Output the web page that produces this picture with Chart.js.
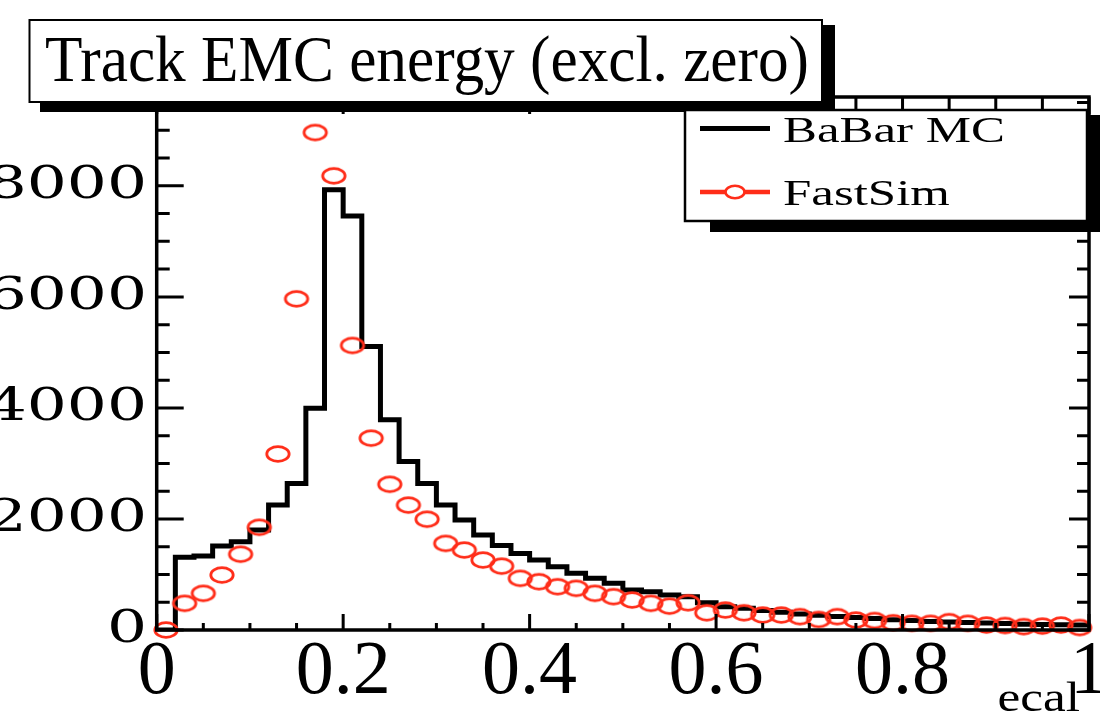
<!DOCTYPE html>
<html><head><meta charset="utf-8">
<script src="https://cdn.jsdelivr.net/npm/chart.js@4.4.1/dist/chart.umd.min.js"></script>
<style>html,body{margin:0;padding:0;background:#fff;}canvas{display:block;}</style>
</head><body>
<canvas id="c" width="1100" height="714"></canvas>
<script>
// ---------- data ----------
const titleText = 'Track EMC energy (excl. zero)';
const xAxisTitle = 'ecal';
const seriesNames = ['BaBar MC', 'FastSim'];
const binLowEdges = [0.00,0.02,0.04,0.06,0.08,0.10,0.12,0.14,0.16,0.18,0.20,0.22,0.24,0.26,0.28,0.30,0.32,0.34,0.36,0.38,0.40,0.42,0.44,0.46,0.48,0.50,0.52,0.54,0.56,0.58,0.60,0.62,0.64,0.66,0.68,0.70,0.72,0.74,0.76,0.78,0.80,0.82,0.84,0.86,0.88,0.90,0.92,0.94,0.96,0.98];
const binCenters = [0.01,0.03,0.05,0.07,0.09,0.11,0.13,0.15,0.17,0.19,0.21,0.23,0.25,0.27,0.29,0.31,0.33,0.35,0.37,0.39,0.41,0.43,0.45,0.47,0.49,0.51,0.53,0.55,0.57,0.59,0.61,0.63,0.65,0.67,0.69,0.71,0.73,0.75,0.77,0.79,0.81,0.83,0.85,0.87,0.89,0.91,0.93,0.95,0.97,0.99];
const lastEdge = 1.0;
const babarMC = [0,1310,1335,1515,1590,1800,2250,2640,3995,7930,7455,5105,3785,3035,2640,2250,1980,1710,1520,1380,1260,1140,1020,930,840,720,690,630,600,490,420,390,350,320,290,265,245,225,205,185,170,155,145,135,125,115,105,100,95,90];
const fastSim = [0,480,660,990,1365,1850,3170,5965,8960,8180,5125,3455,2625,2250,1995,1560,1440,1260,1150,930,870,780,750,660,600,540,480,430,490,310,360,310,270,270,240,190,240,180,170,130,120,120,150,120,90,80,60,70,90,45];
const xTickLabels = [0, 0.2, 0.4, 0.6, 0.8, 1];
const yTickLabels = [0, 2000, 4000, 6000, 8000];
const xMinorStep = 0.05, yMinorStep = 500;
const xRange = [0, 1], yRange = [0, 9600];

// ---------- styles ----------
const RED = 'rgb(255,45,25)';
const Y_LABEL_STRETCH = 1.4;
const X_TITLE_STRETCH = 1.22;
const X_TITLE_RIGHT = 1080;
function makeEllipse(w, h, rx, ry, lw) {
  const c = document.createElement('canvas');
  c.width = w; c.height = h;
  const g = c.getContext('2d');
  g.strokeStyle = RED; g.lineWidth = lw;
  g.beginPath(); g.ellipse(w/2, h/2, rx, ry, 0, 0, Math.PI*2); g.stroke();
  return c;
}
const markerImg = makeEllipse(30, 22, 11.2, 7.3, 2.8);
const legendMarkerImg = makeEllipse(26, 18, 9.5, 6.2, 2.6);

const babarPts = binLowEdges.map((x, i) => ({x, y: babarMC[i]}));
babarPts.push({x: lastEdge, y: babarMC[babarMC.length - 1]});
const fastPts = binCenters.map((x, i) => ({x, y: fastSim[i]}));

// horizontally stretched axis text (ROOT picture is stretched)
const stretchPlugin = {
  id: 'stretch',
  beforeDraw(chart) {
    const ctx = chart.ctx;
    const y = chart.scales.y, x = chart.scales.x;
    if (!y.__patched) {
      y.__patched = true;
      const base = y.drawLabels;
      y.drawLabels = function (area) {
        const ax = this.right - this.options.ticks.padding;
        ctx.save();
        ctx.translate(ax, 0); ctx.scale(Y_LABEL_STRETCH, 1); ctx.translate(-ax, 0);
        base.call(this, area);
        ctx.restore();
      };
    }
    if (!x.__patched) {
      x.__patched = true;
      const baseT = x.drawTitle;
      x.drawTitle = function (area) {
        ctx.save();
        ctx.translate(X_TITLE_RIGHT, 0); ctx.scale(X_TITLE_STRETCH, 1); ctx.translate(-this.right, 0);
        baseT.call(this, area);
        ctx.restore();
      };
    }
  }
};

// frame + inward ticks (ROOT style)
const framePlugin = {
  id: 'frame',
  afterDatasetsDraw(chart) {
    const {ctx, chartArea: a, scales: {x, y}} = chart;
    ctx.save();
    ctx.strokeStyle = '#000';
    ctx.lineCap = 'butt';
    ctx.lineWidth = 3;
    const nx = Math.round((xRange[1] - xRange[0]) / xMinorStep);
    for (let i = 0; i <= nx; i++) {
      const v = xRange[0] + i * xMinorStep;
      const major = xTickLabels.some(t => Math.abs(t - v) < 1e-9);
      const px = x.getPixelForValue(v);
      ctx.beginPath();
      ctx.moveTo(px, a.bottom); ctx.lineTo(px, a.bottom - (major ? 16 : 7));
      ctx.moveTo(px, a.top); ctx.lineTo(px, a.top + (major ? 17 : 12));
      ctx.stroke();
    }
    const ny = Math.floor((yRange[1] - yRange[0]) / yMinorStep);
    for (let i = 0; i <= ny; i++) {
      const v = yRange[0] + i * yMinorStep;
      const major = yTickLabels.includes(v);
      const py = y.getPixelForValue(v);
      ctx.beginPath();
      ctx.moveTo(a.left, py); ctx.lineTo(a.left + (major ? 27 : 13), py);
      ctx.moveTo(a.right, py); ctx.lineTo(a.right - (major ? 20 : 12), py);
      ctx.stroke();
    }
    ctx.lineWidth = 3.5;
    ctx.strokeRect(a.left, a.top, a.right - a.left, a.bottom - a.top);
    ctx.restore();
  }
};

function stretchedText(ctx, text, x, yBase, font, sx) {
  ctx.save();
  ctx.font = font;
  ctx.textBaseline = 'alphabetic';
  ctx.textAlign = 'left';
  ctx.translate(x, yBase);
  ctx.scale(sx, 1);
  ctx.fillStyle = '#000';
  ctx.fillText(text, 0, 0);
  ctx.restore();
}

const boxesPlugin = {
  id: 'boxes',
  afterDraw(chart) {
    const ctx = chart.ctx;
    ctx.save();
    // ---- title box ----
    ctx.fillStyle = '#000';
    ctx.fillRect(40, 101, 795, 11);
    ctx.fillRect(821, 25, 14, 87);
    ctx.fillStyle = '#fff';
    ctx.fillRect(29.5, 20, 792.5, 82);
    ctx.strokeStyle = '#000'; ctx.lineWidth = 2;
    ctx.strokeRect(29.5, 20, 792.5, 82);
    ctx.font = '66px "Liberation Serif"';
    const tw = ctx.measureText(titleText).width;
    stretchedText(ctx, titleText, 45, 81, '66px "Liberation Serif"', 764 / tw);

    // ---- legend box ----
    const L = 685, T = 110, R = 1087, B = 221;
    ctx.fillStyle = '#000';
    ctx.fillRect(R, T + 5, 14, B - T + 6);
    ctx.fillRect(L + 25, B, R - L, 11);
    ctx.fillStyle = '#fff';
    ctx.fillRect(L, T, R - L, B - T);
    ctx.lineWidth = 2.5; ctx.strokeStyle = '#000';
    ctx.strokeRect(L, T, R - L, B - T);
    const ds = chart.data.datasets;
    const lf = '35px "Liberation Serif"';
    ctx.font = lf;
    const w0 = ctx.measureText(ds[0].label).width;
    const sx = 222 / w0;
    ctx.strokeStyle = ds[0].borderColor; ctx.lineWidth = 5;
    ctx.beginPath(); ctx.moveTo(700, 128.5); ctx.lineTo(770, 128.5); ctx.stroke();
    stretchedText(ctx, ds[0].label, 783, 142, lf, sx);
    ctx.strokeStyle = RED; ctx.lineWidth = 4.5;
    ctx.beginPath(); ctx.moveTo(700, 192); ctx.lineTo(770, 192); ctx.stroke();
    ctx.fillStyle = '#fff';
    ctx.beginPath(); ctx.ellipse(735, 192, 9.5, 6.2, 0, 0, Math.PI*2); ctx.fill();
    ctx.drawImage(legendMarkerImg, 735 - legendMarkerImg.width/2, 192 - legendMarkerImg.height/2);
    stretchedText(ctx, ds[1].label, 783, 205, lf, sx);
    ctx.restore();
  }
};

new Chart(document.getElementById('c'), {
  data: {
    datasets: [
      {
        type: 'line', label: seriesNames[0], data: babarPts,
        borderColor: '#000', borderWidth: 5, stepped: 'before',
        pointRadius: 0, fill: false, tension: 0, order: 2
      },
      {
        type: 'scatter', label: seriesNames[1], data: fastPts,
        borderColor: RED, backgroundColor: RED,
        pointStyle: markerImg, pointRadius: 10, showLine: false,
        clip: false, order: 1
      }
    ]
  },
  options: {
    responsive: false, animation: false, devicePixelRatio: 1,
    layout: { padding: { top: 97, right: 11, left: 0, bottom: 0 } },
    plugins: { legend: { display: false }, title: { display: false }, tooltip: { enabled: false } },
    scales: {
      x: {
        type: 'linear', min: xRange[0], max: xRange[1],
        grid: { display: false, drawTicks: false }, border: { display: false },
        afterBuildTicks: s => { s.ticks = xTickLabels.map(v => ({ value: v })); },
        ticks: {
          color: '#000', padding: 5, maxRotation: 0, autoSkip: false,
          font: { family: '"Liberation Serif"', size: 76, lineHeight: 1 },
          callback: v => String(v)
        },
        title: {
          display: true, text: xAxisTitle, align: 'end', color: '#000',
          font: { family: '"Liberation Serif"', size: 42, lineHeight: 1 },
          padding: { top: 0, bottom: -7 }
        },
        afterFit: s => { s.height = 84; s.paddingLeft = 0; s.paddingRight = 0; }
      },
      y: {
        type: 'linear', min: yRange[0], max: yRange[1],
        grid: { display: false, drawTicks: false }, border: { display: false },
        afterBuildTicks: s => { s.ticks = yTickLabels.map(v => ({ value: v })); },
        ticks: {
          color: '#000', padding: 9.7,
          font: { family: '"DejaVu Serif"', size: 45, lineHeight: 1 },
          callback: v => String(v)
        },
        afterFit: s => { s.width = 156.7; s.paddingTop = 0; s.paddingBottom = 0; }
      }
    }
  },
  plugins: [stretchPlugin, framePlugin, boxesPlugin]
});
</script>
</body></html>
